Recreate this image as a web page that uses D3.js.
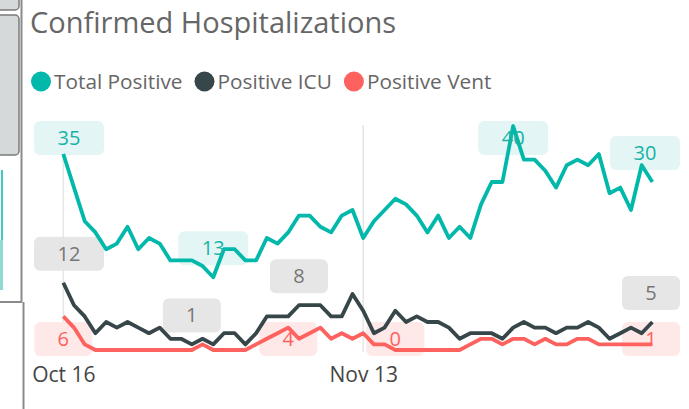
<!DOCTYPE html>
<html>
<head>
<meta charset="utf-8">
<script src="https://cdn.jsdelivr.net/npm/d3@7"></script>
<style>
body { margin: 0; background: #fff; }
text { font-family: "Segoe UI", "Open Sans", sans-serif; }
</style>
</head>
<body>
<div id="chart"></div>
<script>
// daily values, Oct 16 .. Dec 10
var days = d3.timeDay.range(new Date(2020, 9, 16), new Date(2020, 11, 11));
var totalPositive = [35,29,23,21,18,19,22,18,20,19,16,16,16,15,13,18,18,16,16,20,19,21,24,24,22,21,24,25,20,23,25,27,26,24,21,24,20,22,20,26,30,30,40,34,34,32,29,33,34,33,35,28,29,25,33,30];
var positiveICU = [12,8,6,3,5,4,5,4,3,4,2,2,1,2,1,3,3,1,3,6,6,6,8,8,8,6,6,10,7,3,4,7,5,6,5,5,4,2,3,3,3,2,4,5,4,4,3,4,4,5,4,2,3,4,3,5];
var positiveVent = [6,4,1,0,0,0,0,0,0,0,0,0,0,1,0,0,0,0,1,2,3,4,2,3,4,2,3,2,3,1,1,0,0,0,0,0,0,0,1,2,2,1,2,2,1,2,1,1,2,2,1,1,1,1,1,1];
var tickDates = [new Date(2020, 9, 16), new Date(2020, 10, 13)];
var seriesNames = ["Total Positive", "Positive ICU", "Positive Vent"];
// data labels shown: [series, day index, placement]
var dataLabels = [[0,0,"above"],[0,14,"above"],[0,42,"above"],[0,55,"above"],
                  [1,0,"above"],[1,12,"above"],[1,22,"above"],[1,55,"above"],
                  [2,0,"below"],[2,21,"below"],[2,31,"below"],[2,55,"below"]];

var allSeries = [totalPositive, positiveICU, positiveVent];
var colors = ["#01B8AA", "#374649", "#FD625E"];
var boxFill = ["#E3F5F4", "#E6E6E6", "#FFE8E8"];
var boxText = ["#16B3A6", "#767676", "#FD625E"];

var W = 689, H = 409;
var plot = {left: 34, right: 680, top: 121, bottom: 356};

var svg = d3.select("#chart")
  .append("svg")
    .attr("width", W)
    .attr("height", H);

// neighbouring visual cut off on the left edge
var side = svg.append("g");
side.append("rect").attr("x", -4).attr("y", -10).attr("width", 23).attr("height", 20).attr("rx", 4)
  .attr("fill", "#d5d9d9").attr("stroke", "#7a7a7a").attr("stroke-width", 1.5);
side.append("rect").attr("x", -4).attr("y", 15).attr("width", 23).attr("height", 140).attr("rx", 4)
  .attr("fill", "#d5d9d9").attr("stroke", "#7a7a7a").attr("stroke-width", 1.5);
side.append("line").attr("x1", 21.5).attr("x2", 21.5).attr("y1", 0).attr("y2", 302)
  .attr("stroke", "#8a8a8a").attr("stroke-width", 2);
side.append("line").attr("x1", 0).attr("x2", 22).attr("y1", 302).attr("y2", 302)
  .attr("stroke", "#8a8a8a").attr("stroke-width", 2);
side.append("line").attr("x1", 23.5).attr("x2", 23.5).attr("y1", 302).attr("y2", H)
  .attr("stroke", "#8a8a8a").attr("stroke-width", 2);
side.append("line").attr("x1", 2).attr("x2", 2).attr("y1", 170).attr("y2", 240)
  .attr("stroke", "#01B8AA").attr("stroke-width", 1.5);
side.append("rect").attr("x", 0).attr("y", 240).attr("width", 3).attr("height", 50)
  .attr("fill", "#8ddbd3");

// title
svg.append("text")
  .attr("x", 30)
  .attr("y", 33)
  .attr("fill", "#666")
  .style("font-size", "29px")
  .text("Confirmed Hospitalizations");

// legend
var lx = 41;
seriesNames.forEach(function(name, i) {
  svg.append("circle")
    .attr("cx", lx).attr("cy", 81.5).attr("r", 10)
    .attr("fill", colors[i]);
  var t = svg.append("text")
    .attr("x", lx + 13)
    .attr("y", 89)
    .attr("fill", "#666")
    .style("font-size", "20.8px")
    .text(name);
  lx = lx + 13 + t.node().getComputedTextLength() + 22;
});

var x = d3.scaleTime()
  .domain([days[0], days[days.length - 1]])
  .range([63.3, 652.4]);

var y = d3.scaleLinear()
  .domain([0, 40])
  .range([350, 126]);

// vertical gridlines at the ticks
svg.append("g")
  .selectAll("line")
  .data(tickDates)
  .enter().append("line")
    .attr("x1", function(d) { return x(d); })
    .attr("x2", function(d) { return x(d); })
    .attr("y1", 125)
    .attr("y2", 352)
    .attr("stroke", "#e6e6e6")
    .attr("stroke-width", 1.5);

var xAxis = svg.append("g")
  .attr("transform", "translate(0,364)")
  .call(d3.axisBottom(x).tickValues(tickDates).tickFormat(d3.timeFormat("%b %d")).tickSize(0));
xAxis.select(".domain").remove();
xAxis.selectAll("text")
  .attr("fill", "#444")
  .attr("dy", "0.71em")
  .style("font-size", "21px")
  .style("font-family", "'Segoe UI', 'Open Sans', sans-serif");

// label boxes sit under the lines
function labelBox(lab) {
  var s = lab[0], i = lab[1];
  var v = allSeries[s][i];
  var px = x(days[i]), py = y(v);
  var w = String(v).length > 1 ? 70 : 58, h = 34;
  var bx = Math.max(plot.left, Math.min(plot.right - w, px - w / 2));
  var by = lab[2] == "above" ? py - 12 - h : py + 6;
  by = Math.max(plot.top, Math.min(plot.bottom - h, by));
  return {s: s, v: v, x: bx, y: by, w: w, h: h};
}
var boxes = dataLabels.map(labelBox);

svg.append("g")
  .selectAll("rect")
  .data(boxes)
  .enter().append("rect")
    .attr("x", function(d) { return d.x; })
    .attr("y", function(d) { return d.y; })
    .attr("width", function(d) { return d.w; })
    .attr("height", function(d) { return d.h; })
    .attr("rx", 6)
    .attr("fill", function(d) { return boxFill[d.s]; });

var line = d3.line()
  .x(function(d, i) { return x(days[i]); })
  .y(function(d) { return y(d); });

svg.append("g")
  .selectAll("path")
  .data(allSeries.slice().reverse())
  .enter().append("path")
    .attr("d", function(d) { return line(d); })
    .attr("fill", "none")
    .attr("stroke", function(d, i) { return colors[2 - i]; })
    .attr("stroke-width", 3.8)
    .attr("stroke-linejoin", "round");

svg.append("g")
  .selectAll("text")
  .data(boxes)
  .enter().append("text")
    .attr("x", function(d) { return d.x + d.w / 2; })
    .attr("y", function(d) { return d.y + d.h / 2 + 7; })
    .attr("text-anchor", "middle")
    .attr("fill", function(d) { return boxText[d.s]; })
    .style("font-size", "20px")
    .text(function(d) { return d.v; });
</script>
</body>
</html>
